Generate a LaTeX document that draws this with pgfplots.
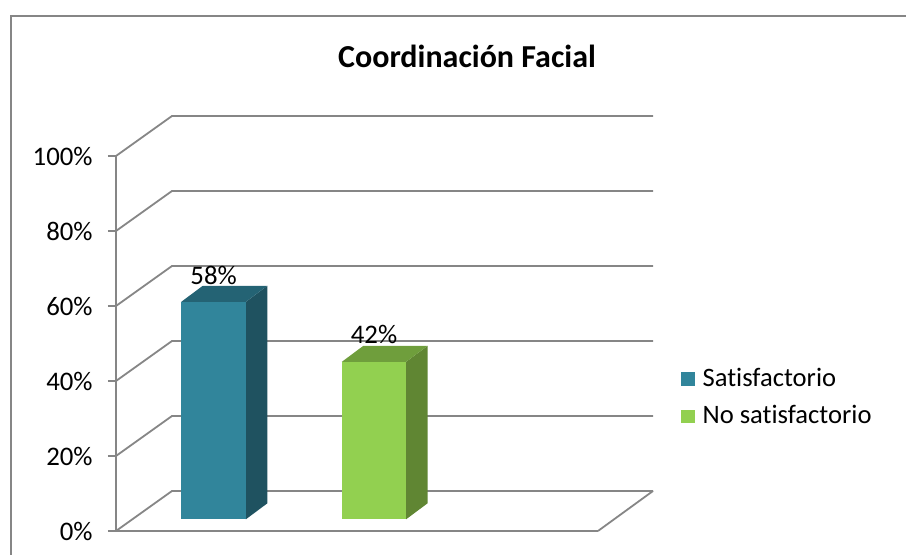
\documentclass[border=0pt]{standalone}
\usepackage{fontspec}
\setmainfont{Carlito}[Ligatures=NoCommon]
\usepackage{pgfplots}
\pgfplotsset{compat=1.18}
\definecolor{gridc}{RGB}{134,134,134}
\definecolor{tealF}{RGB}{49,133,155}
\definecolor{tealT}{RGB}{36,99,116}
\definecolor{tealS}{RGB}{31,82,96}
\definecolor{grnF}{RGB}{146,208,80}
\definecolor{grnT}{RGB}{111,158,60}
\definecolor{grnS}{RGB}{96,134,51}
\pgfplotsset{sqlegend/.style={legend image code/.code={\fill[##1] (0pt,-3.3pt) rectangle (6.6pt,3.3pt); \path (8.6pt,0pt);}}}
\begin{document}
\begin{tikzpicture}
\begin{axis}[
  scale only axis, width=241pt, height=187.5pt,
  xmin=116, xmax=598, ymin=-3.12, ymax=96.88,
  clip=false,
  axis lines*=left,
  axis line style={gridc, line width=0.9pt},
  xtick=\empty,
  ytick={-3.12,16.88,36.88,56.88,76.88,96.88},
  yticklabels={0\%,20\%,40\%,60\%,80\%,100\%},
  tick align=outside, major tick length=4pt,
  tick style={gridc, line width=0.9pt},
  yticklabel style={font=\fontsize{13.4}{16}\selectfont, inner sep=0pt, xshift=-7.5pt},
  /pgf/number format/assume math mode=true,
  legend style={draw=none, fill=none, at={(axis cs:675,42.5)}, anchor=north west,
    font=\fontsize{13.3}{16}\selectfont, legend cell align=left, row sep=4pt},
]
% back wall / floor grid
\addplot[gridc, line width=0.9pt, forget plot] coordinates {(116,-3.12) (172,7.55) (653,7.55)};
\addplot[gridc, line width=0.9pt, forget plot] coordinates {(116,16.88) (172,27.55) (653,27.55)};
\addplot[gridc, line width=0.9pt, forget plot] coordinates {(116,36.88) (172,47.55) (653,47.55)};
\addplot[gridc, line width=0.9pt, forget plot] coordinates {(116,56.88) (172,67.55) (653,67.55)};
\addplot[gridc, line width=0.9pt, forget plot] coordinates {(116,76.88) (172,87.55) (653,87.55)};
\addplot[gridc, line width=0.9pt, forget plot] coordinates {(116,96.88) (172,107.55) (653,107.55)};
\addplot[gridc, line width=0.9pt, forget plot] coordinates {(598,-3.12) (653,7.55)};
% bar 1 (Satisfactorio, 58)
\addplot[forget plot, fill=tealS, draw=none] coordinates {(245.9,0) (267.4,4.27) (267.4,62.27) (245.9,58)} -- cycle;
\addplot[forget plot, fill=tealT, draw=none] coordinates {(181.3,58) (245.9,58) (267.4,62.27) (202.8,62.27)} -- cycle;
\addplot[ybar, bar shift=0pt, bar width=64.6, fill=tealF, draw=none,
  nodes near coords={\pgfmathprintnumber{\pgfplotspointmeta}\%},
  every node near coord/.append style={anchor=base, yshift=8.8pt, inner sep=0pt, font=\fontsize{13.4}{16}\selectfont, text=black},
  sqlegend]
  coordinates {(213.6,58)};
\addlegendentry{Satisfactorio}
% bar 2 (No satisfactorio, 42)
\addplot[forget plot, fill=grnS, draw=none] coordinates {(406.1,0) (427.6,4.27) (427.6,46.27) (406.1,42)} -- cycle;
\addplot[forget plot, fill=grnT, draw=none] coordinates {(341.9,42) (406.1,42) (427.6,46.27) (363.4,46.27)} -- cycle;
\addplot[ybar, bar shift=0pt, bar width=64.2, fill=grnF, draw=none,
  nodes near coords={\pgfmathprintnumber{\pgfplotspointmeta}\%},
  every node near coord/.append style={anchor=base, yshift=9.3pt, inner sep=0pt, font=\fontsize{13.4}{16}\selectfont, text=black},
  sqlegend]
  coordinates {(374,42)};
\addlegendentry{No satisfactorio}
% title and outer frame
\node[font=\bfseries\fontsize{16}{19}\selectfont, anchor=base] at (axis cs:467,120.35) {Coordinación Facial};
\draw[gridc, line width=0.9pt] (axis cs:11,-30) -- (axis cs:11,134.2) -- (axis cs:960,134.2);
\coordinate (BL) at (axis cs:0,-9.52);
\coordinate (TR) at (axis cs:906,138.48);
\end{axis}
\pgfresetboundingbox
\useasboundingbox (BL) rectangle (TR);
\end{tikzpicture}
\end{document}
